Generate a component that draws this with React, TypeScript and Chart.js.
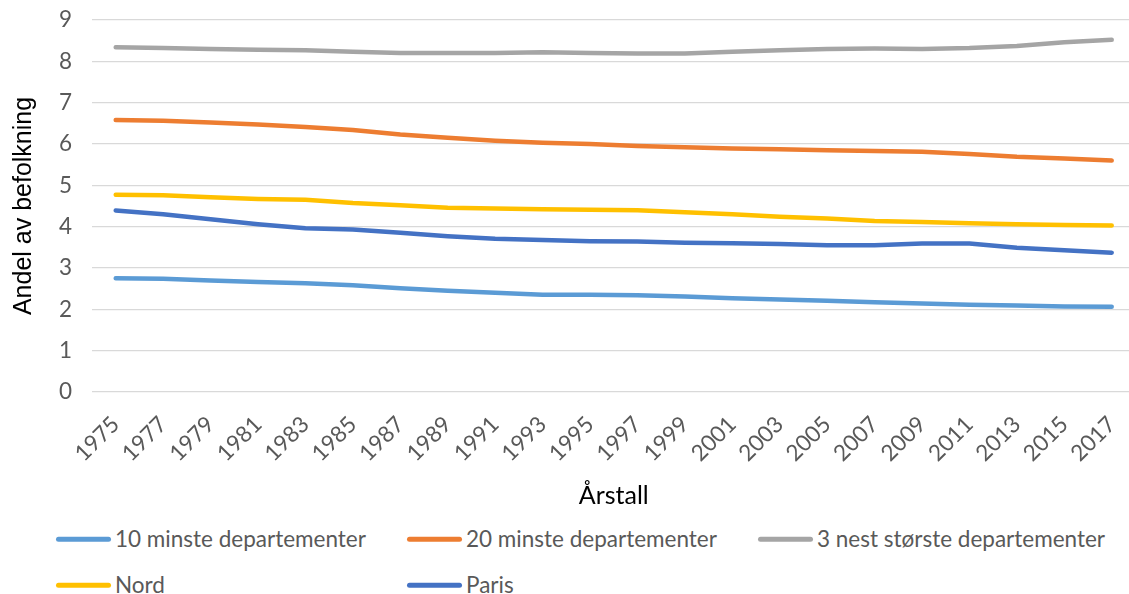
import React, { useEffect, useRef } from "react";
import { Chart, registerables } from "chart.js";

Chart.register(...registerables);

const years = [
  "1975", "1977", "1979", "1981", "1983", "1985", "1987", "1989", "1991", "1993", "1995",
  "1997", "1999", "2001", "2003", "2005", "2007", "2009", "2011", "2013", "2015", "2017",
];

const minste10 = [2.75, 2.74, 2.70, 2.66, 2.63, 2.58, 2.51, 2.45, 2.40, 2.35, 2.35, 2.34, 2.31, 2.27, 2.24, 2.21, 2.17, 2.14, 2.11, 2.09, 2.07, 2.06];
const minste20 = [6.58, 6.56, 6.52, 6.47, 6.41, 6.34, 6.23, 6.15, 6.08, 6.03, 6.00, 5.95, 5.92, 5.89, 5.87, 5.85, 5.83, 5.81, 5.76, 5.69, 5.65, 5.60];
const nestStorste3 = [8.34, 8.32, 8.30, 8.28, 8.27, 8.23, 8.20, 8.20, 8.20, 8.22, 8.20, 8.19, 8.19, 8.23, 8.27, 8.30, 8.31, 8.30, 8.32, 8.37, 8.46, 8.52];
const nord = [4.77, 4.76, 4.71, 4.67, 4.65, 4.57, 4.52, 4.46, 4.44, 4.42, 4.41, 4.40, 4.35, 4.30, 4.24, 4.20, 4.14, 4.11, 4.08, 4.06, 4.04, 4.03];
const paris = [4.39, 4.30, 4.18, 4.06, 3.96, 3.93, 3.85, 3.77, 3.71, 3.68, 3.65, 3.64, 3.61, 3.60, 3.58, 3.55, 3.55, 3.59, 3.59, 3.49, 3.43, 3.37];

const seriesNames = [
  "10 minste departementer",
  "20 minste departementer",
  "3 nest største departementer",
  "Nord",
  "Paris",
];
const seriesColors = ["#5B9BD5", "#ED7D31", "#A5A5A5", "#FFC000", "#4472C4"];
const seriesValues = [minste10, minste20, nestStorste3, nord, paris];

const yTitle = "Andel av befolkning";
const xTitle = "Årstall";

const legendPos = [
  { left: 56, top: 539 },
  { left: 407, top: 539 },
  { left: 758, top: 539 },
  { left: 56, top: 585 },
  { left: 407, top: 585 },
];

export default function App() {
  const canvasRef = useRef<HTMLCanvasElement | null>(null);

  useEffect(() => {
    document.body.style.margin = "0";
    const canvas = canvasRef.current;
    if (!canvas) return;
    const tickFont = { family: "Lato", size: 22.5 };
    const chart = new Chart(canvas, {
      type: "line",
      data: {
        labels: years,
        datasets: seriesValues.map((vals, i) => ({
          label: seriesNames[i],
          data: vals,
          borderColor: seriesColors[i],
          backgroundColor: seriesColors[i],
          borderWidth: 4.5,
          pointRadius: 0,
          pointHoverRadius: 0,
          tension: 0,
          borderCapStyle: "round" as const,
          borderJoinStyle: "round" as const,
          fill: false,
        })),
      },
      options: {
        animation: false,
        responsive: true,
        maintainAspectRatio: false,
        layout: { padding: { top: 20, right: 8, left: 0, bottom: 0 } },
        plugins: {
          legend: { display: false },
          tooltip: { enabled: false },
        },
        scales: {
          x: {
            type: "category",
            offset: true,
            grid: { display: false, drawTicks: false },
            border: { display: false },
            ticks: {
              color: "#595959",
              font: tickFont,
              maxRotation: 45,
              minRotation: 45,
              autoSkip: false,
              padding: 19,
            },
            title: {
              display: true,
              text: xTitle,
              color: "#000000",
              font: { family: "Lato", size: 25 },
              padding: { top: 0, bottom: 0 },
            },
            afterFit: (scale: any) => {
              scale.height = 119;
            },
          },
          y: {
            min: 0,
            max: 9,
            grid: { color: "#D9D9D9", lineWidth: 1.3, drawTicks: false },
            border: { display: false },
            ticks: {
              stepSize: 1,
              color: "#595959",
              font: tickFont,
              padding: 20,
            },
            title: {
              display: true,
              text: yTitle,
              color: "#000000",
              font: { family: "Liberation Sans", size: 25 },
              padding: { top: 9, bottom: 0 },
            },
            afterFit: (scale: any) => {
              scale.width = 92;
              scale.paddingTop = 0;
              scale.paddingBottom = 0;
            },
          },
        },
      },
    });
    return () => chart.destroy();
  }, []);

  return (
    <div
      style={{
        position: "fixed",
        left: 0,
        top: 0,
        width: 1129,
        height: 594,
        overflow: "hidden",
        background: "#ffffff",
      }}
    >
      <div style={{ position: "absolute", left: 0, top: 0, width: 1150, height: 511 }}>
        <canvas ref={canvasRef} />
      </div>
      {seriesNames.map((name, i) => (
        <div
          key={name}
          style={{
            position: "absolute",
            left: legendPos[i].left,
            top: legendPos[i].top,
            transform: "translateY(-50%)",
            display: "flex",
            alignItems: "center",
            fontFamily: "Lato",
            fontSize: 22.5,
            color: "#595959",
            whiteSpace: "nowrap",
            lineHeight: 1,
          }}
        >
          <span
            style={{
              display: "inline-block",
              width: 55,
              height: 5,
              borderRadius: 3,
              background: seriesColors[i],
              marginRight: 4,
            }}
          />
          <span>{name}</span>
        </div>
      ))}
    </div>
  );
}
